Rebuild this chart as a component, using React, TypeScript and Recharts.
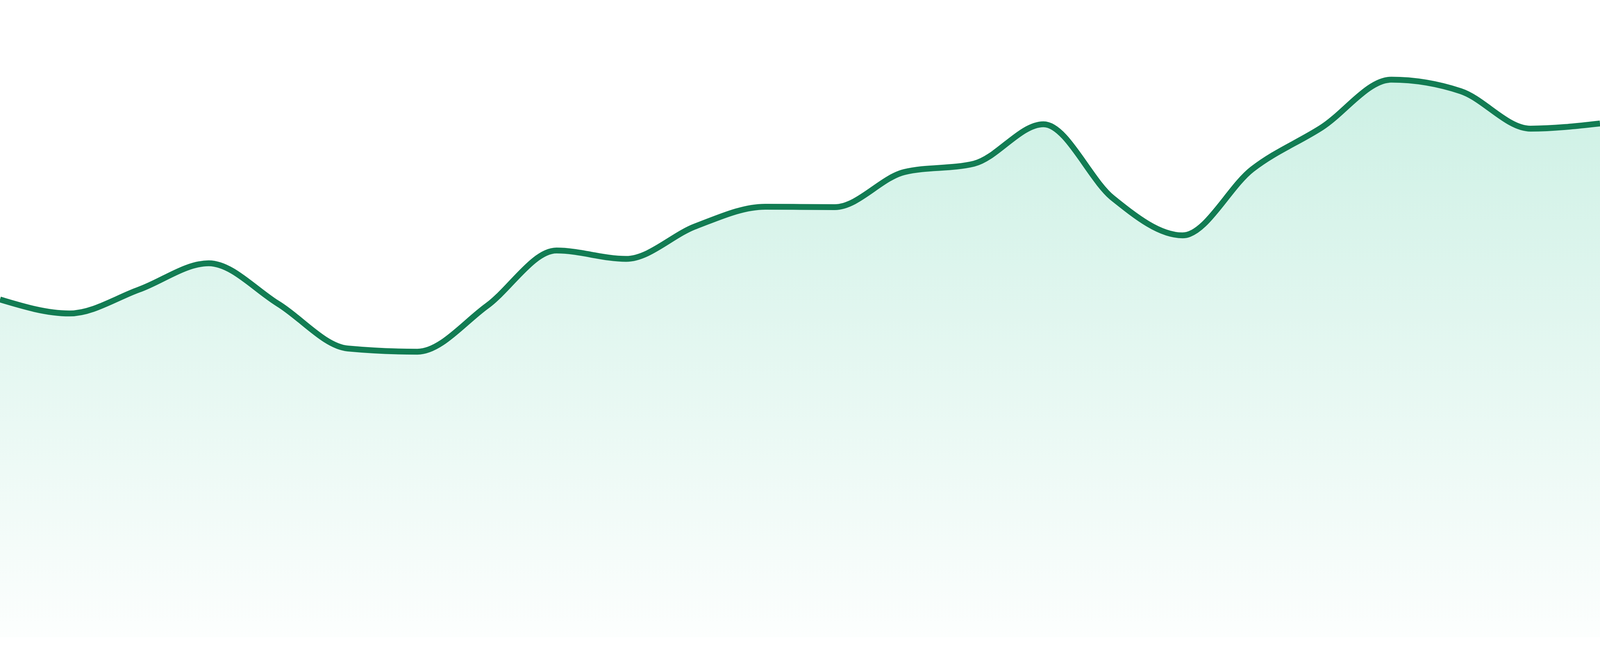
import { AreaChart, Area, XAxis, YAxis, ResponsiveContainer } from "recharts";

const days = [
  "D1", "D2", "D3", "D4", "D5", "D6", "D7", "D8", "D9", "D10", "D11", "D12",
  "D13", "D14", "D15", "D16", "D17", "D18", "D19", "D20", "D21", "D22", "D23", "D24",
];

const values = [
  84.8, 81.3, 87.3, 93.9, 83.7, 72.5, 71.7, 83.2, 97.1, 95.0, 103.2, 108.1,
  108.0, 116.8, 118.9, 128.8, 110.2, 100.9, 117.5, 128.0, 140.0, 137.1, 127.7, 129.0,
];

const data = days.map((day, i) => ({ day, value: values[i] }));

const App = () => {
  return (
    <div style={{ position: "absolute", left: 0, top: 0, width: "100%", height: 1632 }}>
      <ResponsiveContainer width="100%" height="100%">
        <AreaChart data={data} margin={{ top: 0, right: 0, bottom: 0, left: 0 }}>
          <defs>
            <linearGradient id="areaFill" x1="0" y1="0" x2="0" y2="1">
              <stop offset="0%" stopColor="#10b981" stopOpacity={0.35} />
              <stop offset="100%" stopColor="#10b981" stopOpacity={0.02} />
            </linearGradient>
          </defs>
          <XAxis dataKey="day" hide />
          <YAxis hide domain={[0, 160]} />
          <Area
            type="monotone"
            dataKey="value"
            stroke="#127c53"
            strokeWidth={15}
            fill="url(#areaFill)"
            dot={false}
            activeDot={false}
            isAnimationActive={false}
          />
        </AreaChart>
      </ResponsiveContainer>
    </div>
  );
};

export default App;
